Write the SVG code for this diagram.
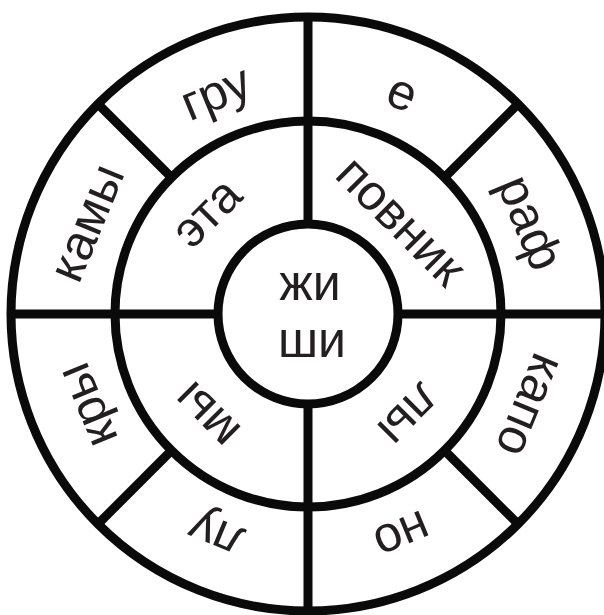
<svg xmlns="http://www.w3.org/2000/svg" width="604" height="615" viewBox="0 0 604 615">
<style>
.ring{fill:none;stroke:#0a0a0a;stroke-width:9}
.ln{stroke:#0a0a0a;stroke-width:9;stroke-linecap:butt}
.t{font-family:"Liberation Sans",Arial,sans-serif;font-size:50px;fill:#231f20;text-anchor:middle}
</style>
<rect width="604" height="615" fill="#fff"/>
<g id="rings">
<circle class="ring" cx="308" cy="314" r="297"/>
<circle class="ring" cx="308" cy="314" r="193"/>
<circle class="ring" cx="308" cy="314" r="90"/>
</g>
<g id="connectors">
<line class="ln" x1="308" y1="17" x2="308" y2="224"/>
<line class="ln" x1="308" y1="404" x2="308" y2="611"/>
<line class="ln" x1="11" y1="314" x2="218" y2="314"/>
<line class="ln" x1="398" y1="314" x2="605" y2="314"/>
<line class="ln" x1="171.5" y1="177.5" x2="98" y2="104"/>
<line class="ln" x1="444.5" y1="177.5" x2="518" y2="104"/>
<line class="ln" x1="444.5" y1="450.5" x2="518" y2="524"/>
<line class="ln" x1="171.5" y1="450.5" x2="98" y2="524"/>
</g>
<g id="center"><text class="t" x="310" y="300">жи</text><text class="t" x="312" y="357">ши</text></g>
<g id="n-eta" transform="translate(209,215) rotate(-45)"><text class="t" x="0" y="13">эта</text></g>
<g id="n-povnik" transform="translate(398.5,223.5) rotate(45)"><text class="t" x="0" y="13">повник</text></g>
<g id="n-ly" transform="translate(407,413) rotate(135)"><text class="t" x="0" y="13">лы</text></g>
<g id="n-my" transform="translate(209,413) rotate(225)"><text class="t" x="0" y="13">мы</text></g>
<g id="n-gru" transform="translate(217,96) rotate(-22.5)"><text class="t" x="0" y="13">гру</text></g>
<g id="n-e" transform="translate(401,96) rotate(22.5)"><text class="t" x="0" y="13">е</text></g>
<g id="n-raf" transform="translate(527,224) rotate(67.5)"><text class="t" x="0" y="13">раф</text></g>
<g id="n-kapo" transform="translate(527,404) rotate(112.5)"><text class="t" x="0" y="13">капо</text></g>
<g id="n-no" transform="translate(401,532) rotate(157.5)"><text class="t" x="0" y="13">но</text></g>
<g id="n-lu" transform="translate(217,532) rotate(202.5)"><text class="t" x="0" y="13">лу</text></g>
<g id="n-kry" transform="translate(90,404) rotate(247.5)"><text class="t" x="0" y="13">кры</text></g>
<g id="n-kamy" transform="translate(90,224) rotate(-67.5)"><text class="t" x="0" y="13">камы</text></g>
</svg>
